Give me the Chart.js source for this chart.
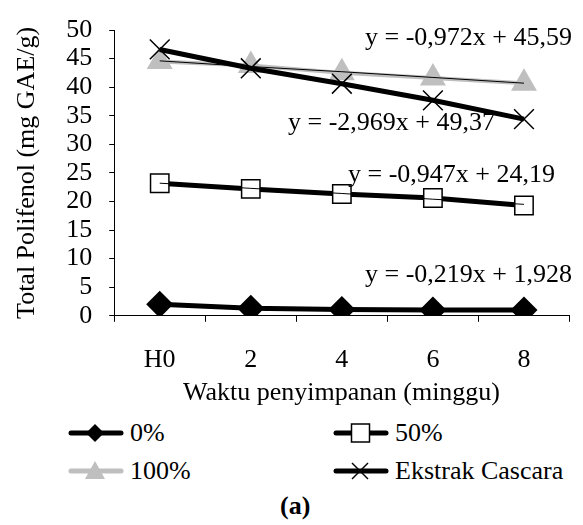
<!DOCTYPE html>
<html>
<head>
<meta charset="utf-8">
<script src="https://cdn.jsdelivr.net/npm/chart.js@4"></script>
<style>
  body { margin: 0; width: 583px; height: 525px; overflow: hidden; background: #fff; position: relative; font-family: "Liberation Serif", Tinos, "DejaVu Serif", serif; color: #000; }
  #wrap { position: absolute; left: 0; top: 0; width: 585px; height: 399px; }
  .leg { position: absolute; height: 30px; display: flex; align-items: center; font-size: 26px; line-height: 30px; }
  .leg svg { margin-right: 5px; }
  #xjudul { position: absolute; left: 98px; width: 487px; top: 376px; text-align: center; font-size: 26px; line-height: 32px; }
  #cap { position: absolute; left: 280px; top: 490px; font-size: 26px; font-weight: bold; line-height: 32px; }
</style>
</head>
<body>
<div id="wrap"><canvas id="myChart"></canvas></div>
<div id="xjudul">Waktu penyimpanan (minggu)</div>

<div class="leg" style="left:67px; top:418px">
  <svg width="58" height="30"><line x1="4" y1="15" x2="54" y2="15" stroke="#000" stroke-width="5" stroke-linecap="round"/><polygon points="28,6 37,15 28,24 19,15" fill="#000"/></svg>0%
</div>
<div class="leg" style="left:332px; top:418px">
  <svg width="58" height="30"><line x1="4" y1="15" x2="54" y2="15" stroke="#000" stroke-width="5" stroke-linecap="round"/><rect x="19.5" y="6" width="18" height="18" fill="#fff" stroke="#000" stroke-width="1.5"/></svg>50%
</div>
<div class="leg" style="left:67px; top:456px">
  <svg width="58" height="30"><line x1="4" y1="15" x2="54" y2="15" stroke="#bfbfbf" stroke-width="5" stroke-linecap="round"/><polygon points="28,5 38,23 18,23" fill="#bfbfbf"/></svg>100%
</div>
<div class="leg" style="left:332px; top:456px">
  <svg width="58" height="30"><line x1="4" y1="15" x2="54" y2="15" stroke="#000" stroke-width="5" stroke-linecap="round"/><line x1="20" y1="7" x2="36" y2="23" stroke="#000" stroke-width="1.5"/><line x1="36" y1="7" x2="20" y2="23" stroke="#000" stroke-width="1.5"/></svg>Ekstrak Cascara
</div>
<div id="cap">(a)</div>

<script>
// data kategori & nilai
let minggu = ["H0", "2", "4", "6", "8"];
let nol = [2.0, 1.3, 1.1, 1.0, 1.0];
let limapuluh = [23.2, 22.2, 21.3, 20.6, 19.3];
let seratus = [44.5, 43.8, 42.5, 41.6, 40.7];
let cascara = [46.6, 43.3, 40.6, 37.7, 34.4];
let tren100 = [44.6, 43.6, 42.7, 41.7, 40.7];
let tren50 = [23.2, 22.3, 21.4, 20.4, 19.5];
let persamaan = ["y = -0,972x + 45,59", "y = -2,969x + 49,37", "y = -0,947x + 24,19", "y = -0,219x + 1,928"];

let huruf = '"Liberation Serif", Tinos, "DejaVu Serif", serif';
Chart.defaults.font.family = huruf;
Chart.defaults.font.size = 26;
Chart.defaults.color = "#000";

///// tulis persamaan garis tren /////
const labelPersamaan = {
  id: "labelPersamaan",
  afterDatasetsDraw(chart) {
    let ctx = chart.ctx;
    let pos = [[365, 38], [288, 123], [348, 175], [365, 275]];
    ctx.save();
    ctx.font = "26px " + huruf;
    ctx.fillStyle = "#000";
    ctx.textBaseline = "middle";
    ctx.textAlign = "left";
    persamaan.forEach((t, i) => ctx.fillText(t, pos[i][0], pos[i][1]));
    ctx.restore();
  },
};

const data = {
  labels: minggu,
  datasets: [
    { label: "tren 100%", data: tren100, borderColor: "#000", borderWidth: 1, pointRadius: 0, order: 0 },
    { label: "tren 50%", data: tren50, borderColor: "#000", borderWidth: 1, pointRadius: 0, order: 0 },
    { label: "Ekstrak Cascara", data: cascara, borderColor: "#000", borderWidth: 5, pointStyle: "crossRot", pointRadius: 14, pointBorderWidth: 1.5, pointBorderColor: "#000", order: 1 },
    { label: "100%", data: seratus, borderColor: "#bfbfbf", borderWidth: 4, pointStyle: "triangle", pointRadius: 11, pointBackgroundColor: "#bfbfbf", pointBorderColor: "#bfbfbf", order: 2 },
    { label: "50%", data: limapuluh, borderColor: "#000", borderWidth: 5, pointStyle: "rect", pointRadius: 13, pointBackgroundColor: "#fff", pointBorderColor: "#000", pointBorderWidth: 1.5, order: 3 },
    { label: "0%", data: nol, borderColor: "#000", borderWidth: 5, pointStyle: "rectRot", pointRadius: 10, pointBackgroundColor: "#000", pointBorderColor: "#000", order: 4 },
  ],
};

const config = {
  type: "line",
  data: data,
  options: {
    responsive: true,
    maintainAspectRatio: false,
    animation: false,
    layout: { padding: { left: 7, top: 27, right: 0, bottom: 0 } },
    plugins: { legend: { display: false }, tooltip: { enabled: false } },
    scales: {
      x: {
        offset: true,
        grid: { offset: true, drawOnChartArea: false, tickLength: 6, color: "#000" },
        border: { color: "#000", width: 1 },
        ticks: { padding: 23, maxRotation: 0 },
      },
      y: {
        min: 0,
        max: 50,
        grid: { drawOnChartArea: false, tickLength: 5, color: "#000" },
        border: { color: "#000", width: 1 },
        ticks: { stepSize: 5, padding: 17, autoSkip: false, font: { lineHeight: 1 } },
        title: { display: true, text: "Total Polifenol (mg GAE/g)", padding: { top: 5, bottom: 6 } },
      },
    },
  },
  plugins: [labelPersamaan],
};

new Chart(document.getElementById("myChart"), config);
</script>
</body>
</html>
